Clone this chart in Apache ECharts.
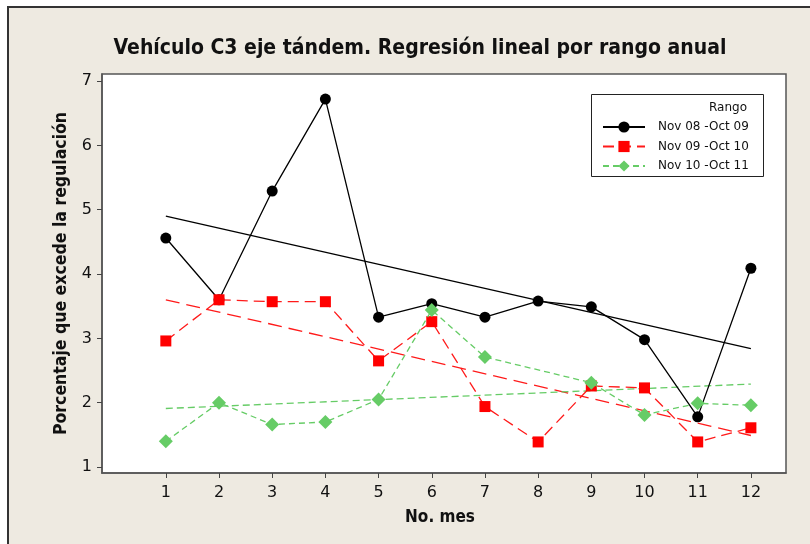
<!DOCTYPE html>
<html>
<head>
<meta charset="utf-8">
<script src="https://cdn.jsdelivr.net/npm/echarts@6/dist/echarts.min.js"></script>
<style>
html,body{margin:0;padding:0;background:#fff;}
#c{width:810px;height:544px;}
</style>
</head>
<body>
<div id="c"></div>
<script>
var months = [1,2,3,4,5,6,7,8,9,10,11,12];
var xTicks = [1,2,3,4,5,6,7,8,9,10,11,12];
var yTicks = [1,2,3,4,5,6,7];
var seriesNames = ['Nov 08 -Oct 09','Nov 09 -Oct 10','Nov 10 -Oct 11'];
var s1 = [4.56,3.60,5.29,6.72,3.33,3.54,3.33,3.58,3.49,2.98,1.78,4.09];
var s2 = [2.96,3.60,3.57,3.57,2.65,3.26,1.94,1.39,2.26,2.23,1.39,1.61];
var s3 = [1.40,2.00,1.66,1.70,2.05,3.44,2.71,null,2.31,1.81,1.99,1.96];
var fitX = [1,12];
var fit1 = [4.90,2.84];
var fit2 = [3.60,1.49];
var fit3 = [1.91,2.29];

function pairs(xs, ys){ return xs.map(function(x,i){ return [x, ys[i]]; }); }

var font = 'DejaVu Sans';
var chart = echarts.init(document.getElementById('c'), null, {renderer:'canvas'});
var option = {
  backgroundColor:'#ffffff',
  animation:false,
  graphic:[
    {type:'rect', z:-10, shape:{x:8,y:7,width:810,height:544}, style:{fill:'#eeeae1', stroke:'#333', lineWidth:2}},
    {type:'rect', z:50, shape:{x:591.5,y:94.5,width:172,height:82}, style:{fill:'#fff', stroke:'#222', lineWidth:1}},
    {type:'text', z:51, style:{text:'Rango', x:747, y:108, align:'right', verticalAlign:'middle', font:'12px "DejaVu Sans"', fill:'#111'}}
  ],
  title:{
    text:'Vehículo C3 eje tándem. Regresión lineal por rango anual',
    left:415, top:33, textAlign:'center',
    textStyle:{fontFamily:'DejaVu Sans Condensed', fontWeight:'bold', fontSize:21, color:'#111'}
  },
  legend:{
    data:seriesNames, orient:'vertical', left:597, top:116, z:60,
    itemWidth:42, itemHeight:14, itemGap:7.5,
    textStyle:{fontFamily:font, fontSize:12, color:'#111', padding:[0,0,0,8]}
  },
  grid:{left:102, top:74, right:24, bottom:71, show:true, backgroundColor:'#fff', borderColor:'#555', borderWidth:1.5},
  xAxis:{
    type:'value', min:-0.2, max:12.66,
    name:'No. mes', nameLocation:'middle', nameGap:36,
    nameTextStyle:{fontFamily:'DejaVu Sans Condensed', fontWeight:'bold', fontSize:17, color:'#111', padding:[0,8,0,0]},
    axisLine:{show:true, onZero:false, lineStyle:{color:'#555', width:1.5}},
    axisTick:{show:true, length:5, customValues:xTicks, lineStyle:{color:'#444'}},
    axisLabel:{customValues:xTicks, margin:12, fontFamily:font, fontSize:16, color:'#111'},
    splitLine:{show:false}
  },
  yAxis:{
    type:'value', min:0.907, max:7.11,
    name:'Porcentaje que excede la regulación', nameLocation:'middle', nameGap:30,
    nameTextStyle:{fontFamily:'DejaVu Sans Condensed', fontWeight:'bold', fontSize:17.5, color:'#111'},
    axisLine:{show:true, onZero:false, lineStyle:{color:'#555', width:1.5}},
    axisTick:{show:true, length:5, customValues:yTicks, lineStyle:{color:'#444'}},
    axisLabel:{customValues:yTicks, margin:10, fontFamily:font, fontSize:16, color:'#111'},
    splitLine:{show:false}
  },
  series:[
    {name:'fit1', type:'line', data:pairs(fitX,fit1), symbol:'none', silent:true, z:2,
     lineStyle:{color:'#000', width:1.3}},
    {name:'fit2', type:'line', data:pairs(fitX,fit2), symbol:'none', silent:true, z:2,
     lineStyle:{color:'#ff1a1a', width:1.3, type:[14,7]}},
    {name:'fit3', type:'line', data:pairs(fitX,fit3), symbol:'none', silent:true, z:2,
     lineStyle:{color:'#66cc66', width:1.3, type:[7,4]}},
    {name:seriesNames[0], type:'line', data:pairs(months,s1), z:3,
     symbol:'circle', symbolSize:11, itemStyle:{color:'#000'},
     lineStyle:{color:'#000', width:1.3}},
    {name:seriesNames[1], type:'line', data:pairs(months,s2), z:4,
     symbol:'rect', symbolSize:11, itemStyle:{color:'#ff0000'},
     lineStyle:{color:'#ff1a1a', width:1.3, type:[11,6]}},
    {name:seriesNames[2], type:'line', data:pairs(months,s3), z:5, connectNulls:true,
     symbol:'diamond', symbolSize:14, itemStyle:{color:'#66cc66'},
     lineStyle:{color:'#66cc66', width:1.3, type:[6,4]}}
  ]
};
chart.setOption(option);
</script>
</body>
</html>
